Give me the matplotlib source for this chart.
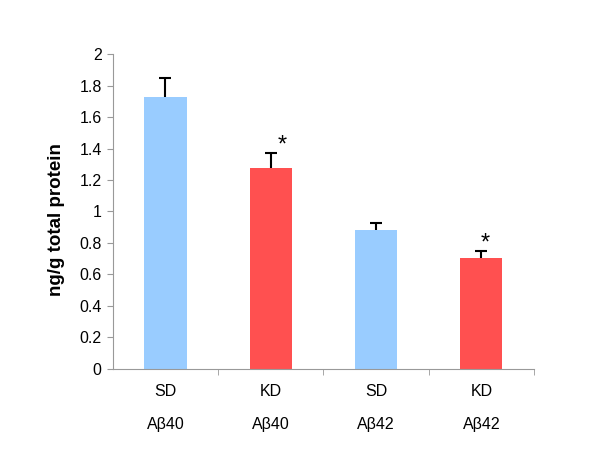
import numpy as np
import matplotlib
matplotlib.use("Agg")
import matplotlib.pyplot as plt
from matplotlib.ticker import FixedLocator, FuncFormatter

plt.rcParams["font.family"] = ["Liberation Sans", "DejaVu Sans"]

# data
diet = ["SD", "KD", "SD", "KD"]
peptide = ["Aβ40", "Aβ40", "Aβ42", "Aβ42"]
means = [1.725, 1.278, 0.883, 0.707]
errors = [0.125, 0.095, 0.042, 0.042]
signif = [False, True, False, True]
colors = ["#99CCFF", "#FF5050", "#99CCFF", "#FF5050"]
star_dx = [0, 0.11, 0, 0.04]

fig = plt.figure(figsize=(6, 4.57), dpi=100)
ax = fig.add_axes([0.188, 0.1926, 0.702, 0.6892])

x = np.arange(len(means))
tops = np.array(means) + np.array(errors)
ax.bar(x, means, width=0.4, color=colors, zorder=2)
# one-sided error bars (upper only)
ax.vlines(x, means, tops, color="black", lw=1.5, zorder=3)
ax.hlines(tops, x - 0.057, x + 0.057, color="black", lw=1.5, zorder=3)

for i in range(len(means)):
    if signif[i]:
        ax.text(x[i] + star_dx[i], tops[i] + 0.008, "*", fontsize=17,
                ha="center", va="baseline")

ax.set_xlim(-0.5, 3.5)
ax.set_ylim(0, 2)
ax.set_yticks(np.arange(0, 2.01, 0.2))
ax.yaxis.set_major_formatter(FuncFormatter(lambda v, p: "%g" % round(v, 1)))
ax.set_ylabel("ng/g total protein", fontsize=13.5, fontweight="bold")
ax.yaxis.set_label_coords(-0.114, 0.475)

# category boundaries as ticks, labels in the middle
ax.set_xticks(x)
ax.set_xticklabels(diet)
ax.xaxis.set_minor_locator(FixedLocator([0.5, 1.5, 2.5, 3.5]))
ax.tick_params(axis="x", which="major", length=0, pad=11, labelsize=11.5)
ax.tick_params(axis="x", which="minor", length=4, color="#999999", direction="out")
ax.tick_params(axis="y", length=4, color="#999999", labelsize=11.5, pad=4)

for i in range(len(peptide)):
    ax.annotate(peptide[i], xy=(x[i], 0), xycoords=("data", "axes fraction"),
                xytext=(0, -34.5), textcoords="offset points", ha="center",
                va="top", fontsize=11.5)

for side in ["top", "right"]:
    ax.spines[side].set_visible(False)
ax.spines["left"].set_color("#999999")
ax.spines["bottom"].set_color("#999999")

plt.savefig("out.png", dpi=100)
